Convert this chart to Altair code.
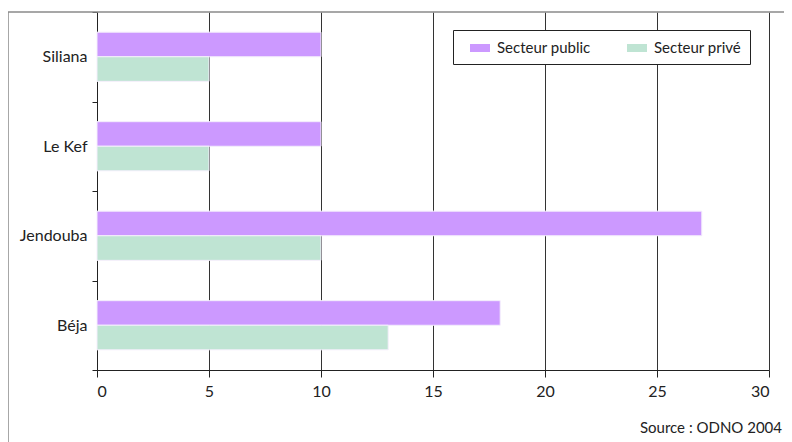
import altair as alt
import pandas as pd

regions = ["Siliana", "Le Kef", "Jendouba", "Béja"]
sectors = ["Secteur public", "Secteur privé"]
public_vals = [10, 10, 27, 18]
private_vals = [5, 5, 10, 13]
x_ticks = [0, 5, 10, 15, 20, 25, 30]
colors = ["#cc99ff", "#bfe4d3"]
source_text = "Source : ODNO 2004"

rows = []
for r, p, q in zip(regions, public_vals, private_vals):
    rows.append({"region": r, "sector": sectors[0], "value": p})
    rows.append({"region": r, "sector": sectors[1], "value": q})
df = pd.DataFrame(rows)

FONT = "Lato"
W, H = 672, 358

bars = alt.Chart(df).mark_bar(stroke="#f4eefc", strokeWidth=1).encode(
    x=alt.X("value:Q", scale=alt.Scale(domain=[0, 30], nice=False),
            axis=alt.Axis(values=x_ticks, title=None, grid=True, gridColor="#333333",
                          gridWidth=1, domainColor="#222222", tickColor="#222222",
                          tickSize=7, labelPadding=6, labelFontSize=16, labelFont=FONT,
                          labelColor="#222222")),
    y=alt.Y("region:N", sort=regions,
            scale=alt.Scale(paddingInner=0, paddingOuter=0),
            axis=alt.Axis(title=None, tickBand="extent",
                          domainColor="#222222",
                          tickColor="#222222", tickSize=5, labelPadding=5,
                          labelFontSize=16, labelFont=FONT, labelColor="#222222")),
    yOffset=alt.YOffset("sector:N", sort=sectors,
                        scale=alt.Scale(paddingInner=0, paddingOuter=0.82)),
    color=alt.Color("sector:N", sort=sectors,
                    scale=alt.Scale(domain=sectors, range=colors),
                    legend=alt.Legend(title=None, orient="none", legendX=356, legendY=18,
                                      direction="horizontal", columns=2,
                                      symbolType="M-1,-0.4H1V0.4H-1Z", symbolSize=400,
                                      symbolStrokeWidth=0, symbolOffset=9,
                                      labelFont=FONT, labelFontSize=15, labelColor="#222222",
                                      labelOffset=7, columnPadding=27,
                                      padding=8, strokeColor="#222222",
                                      fillColor="white")),
)

one = alt.Data(values=[{"a": 1}])
frame_top = alt.Chart(one).mark_rule(color="#8a8a8a", strokeWidth=1.5).encode(
    x=alt.value(-89), x2=alt.value(W + 40), y=alt.value(0))
frame_left = alt.Chart(one).mark_rule(color="#8a8a8a", strokeWidth=1.5).encode(
    x=alt.value(-89), y=alt.value(0), y2=alt.value(H + 80))
source = alt.Chart(alt.Data(values=[{"t": source_text}])).mark_text(
    align="right", baseline="middle", font=FONT, fontSize=15, color="#222222"
).encode(text="t:N", x=alt.value(685), y=alt.value(416))

chart = alt.layer(bars, frame_top, frame_left, source).properties(
    width=W, height=H,
    autosize=alt.AutoSizeParams(type="none"),
    padding={"left": 89, "top": 4, "right": 15, "bottom": 72},
).configure_view(stroke=None)

chart.save("out.html", embed_options={"renderer": "svg", "actions": False})
